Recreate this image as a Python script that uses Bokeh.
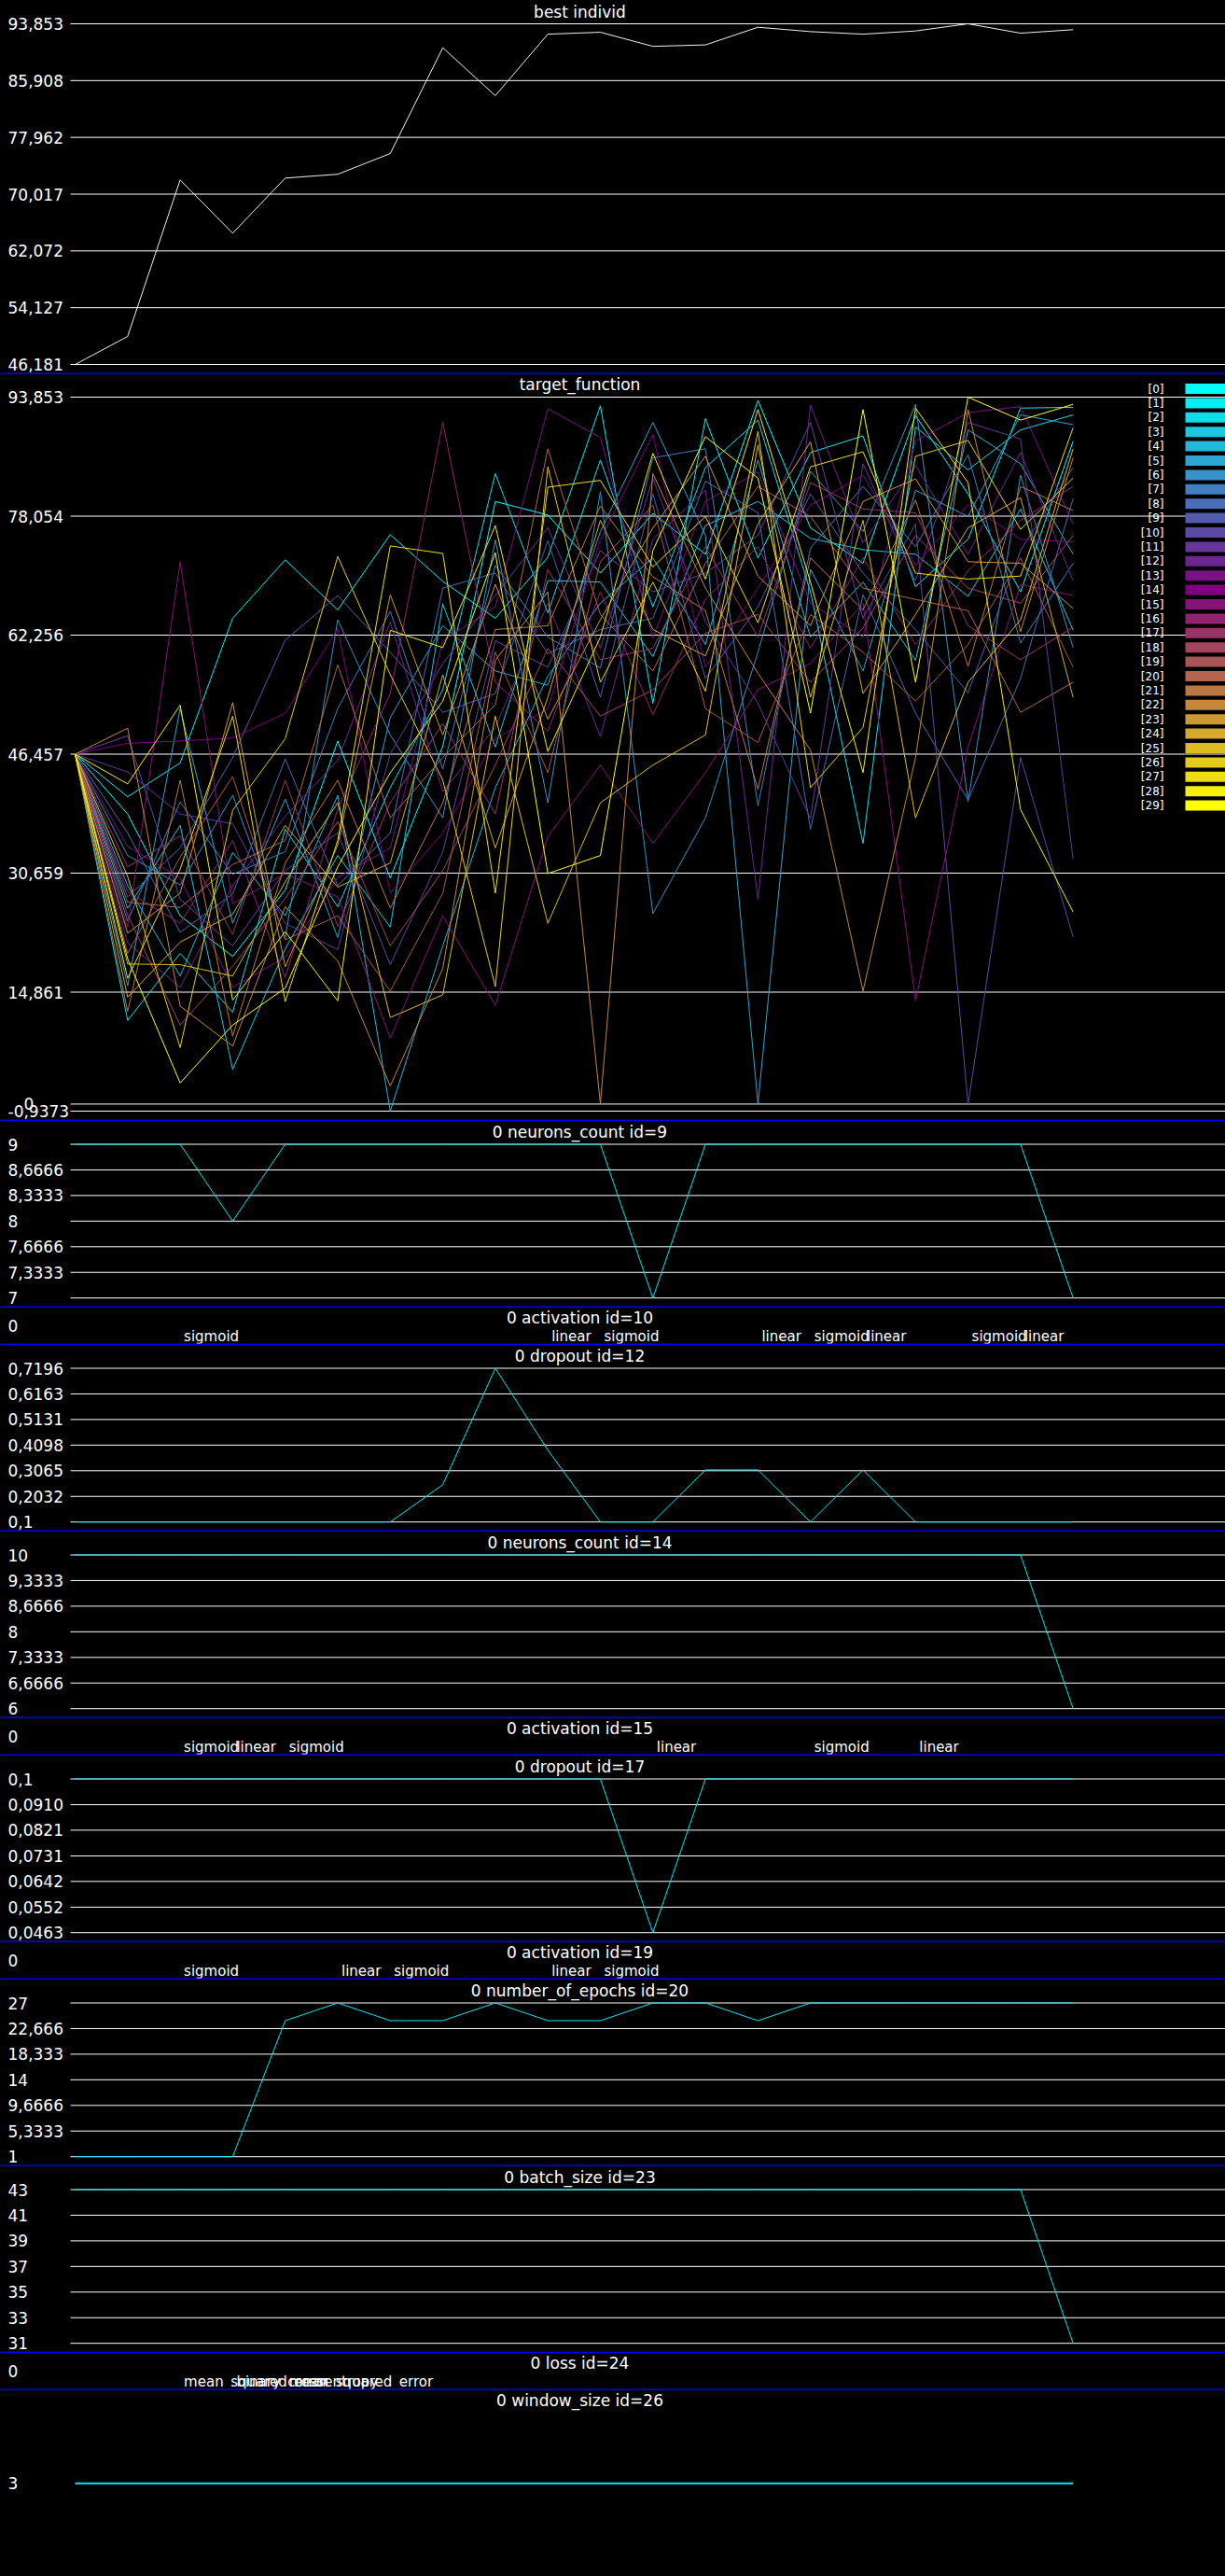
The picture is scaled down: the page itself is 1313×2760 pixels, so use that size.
from bokeh.plotting import figure
from bokeh.models import (Range1d, ColumnDataSource, LabelSet, Label,
                          BoxAnnotation, GlobalInlineStyleSheet)
from bokeh.layouts import column
from bokeh.embed import file_html
from bokeh.resources import INLINE
from bokeh.core.properties import value

# ---------------------------------------------------------------- data
generations = list(range(20))

best_individ = [46.181, 50.1, 72.0, 64.55, 72.26, 72.8, 75.7, 90.5, 83.8, 92.4,
                92.67, 90.7, 90.9, 93.37, 92.76, 92.4, 92.85, 93.853, 92.54, 93.03]
best_ticks = [46.181, 54.127, 62.072, 70.017, 77.962, 85.908, 93.853]
best_tick_labels = ["46,181", "54,127", "62,072", "70,017", "77,962", "85,908", "93,853"]

tf_00 = [46.457, 38.5, 25.0, 19.6, 28.4, 48.2, 30.0, 47.5, 80.0, 78.2, 70.5, 78.4, 73.0, 93.4, 76.5, 71.8, 91.4, 81.0, 68.0, 88.0]
tf_01 = [46.457, 40.8, 45.3, 64.5, 72.25, 65.6, 75.6, 69.4, 64.5, 72.6, 92.7, 53.2, 91.0, 72.5, 86.5, 88.7, 68.7, 75.0, 92.4, 92.5]
tf_02 = [46.457, 11.1, 20.0, 12.2, 36.5, 26.2, 42.0, 55.0, 83.7, 65.2, 85.5, 66.0, 84.5, 90.8, 68.0, 34.6, 89.9, 84.2, 89.5, 91.5]
tf_03 = [46.457, 26.0, 37.0, 4.6, 20.6, 33.0, 23.5, 66.4, 47.4, 69.5, 69.3, 59.4, 76.8, 80.0, 75.1, 73.6, 73.0, 67.4, 79.0, 62.9]
tf_04 = [46.457, 29.0, 17.0, 33.4, 25.0, 41.0, -0.9373, 21.0, 42.0, 56.8, 66.5, 72.5, 61.0, 85.5, 62.0, 69.3, 58.9, 89.5, 85.0, 73.0]
tf_05 = [46.457, 15.7, 52.5, 24.0, 40.5, 22.1, 51.3, 63.5, 57.5, 55.6, 76.0, 90.5, 75.5, 0.0, 71.0, 57.5, 81.5, 78.0, 91.5, 90.2]
tf_06 = [46.457, 33.0, 29.1, 41.0, 22.0, 64.3, 49.0, 38.0, 74.9, 40.0, 81.3, 25.3, 38.0, 60.0, 84.0, 76.0, 92.9, 40.2, 83.5, 60.6]
tf_07 = [46.457, 24.3, 40.1, 30.5, 33.5, 52.5, 65.4, 44.5, 71.5, 62.0, 57.9, 85.8, 87.0, 39.6, 73.8, 82.0, 74.0, 86.2, 61.2, 71.8]
tf_08 = [46.457, 36.0, 22.8, 27.9, 45.8, 29.0, 36.0, 68.5, 70.5, 59.8, 63.0, 64.5, 82.7, 78.5, 36.5, 67.6, 51.9, 40.4, 56.5, 80.4]
tf_09 = [46.457, 27.5, 34.0, 46.0, 61.6, 67.5, 60.0, 52.0, 54.5, 74.8, 54.0, 81.0, 56.5, 66.0, 81.0, 70.5, 63.0, 54.6, 73.5, 84.5]
tf_10 = [46.457, 48.9, 27.2, 21.0, 31.0, 36.0, 18.5, 33.5, 61.5, 58.0, 73.5, 68.0, 70.5, 75.5, 90.5, 64.5, 77.0, 0.0, 46.0, 22.2]
tf_11 = [46.457, 44.1, 38.5, 37.2, 24.0, 20.5, 46.5, 58.5, 67.5, 76.5, 60.5, 83.1, 64.0, 53.2, 37.9, 85.0, 69.5, 90.5, 88.3, 32.5]
tf_12 = [46.457, 21.4, 15.5, 29.0, 38.2, 45.6, 64.0, 41.5, 50.0, 66.5, 48.8, 75.0, 81.5, 27.2, 92.8, 74.5, 84.8, 73.0, 86.5, 69.5]
tf_13 = [46.457, 34.2, 30.0, 15.5, 19.5, 30.1, 34.0, 61.5, 66.0, 92.3, 88.5, 61.9, 80.0, 83.9, 66.5, 62.0, 88.0, 91.8, 92.6, 77.0]
tf_14 = [46.457, 47.9, 48.2, 48.6, 51.9, 63.1, 28.0, 36.0, 48.5, 52.5, 74.9, 88.9, 58.0, 68.5, 79.5, 83.5, 71.5, 79.6, 75.0, 74.6]
tf_15 = [46.457, 23.5, 72.0, 26.6, 30.6, 27.5, 8.75, 25.0, 13.1, 35.5, 45.0, 34.6, 44.0, 55.0, 58.5, 66.5, 13.7, 47.4, 69.0, 67.5]
tf_16 = [46.457, 28.2, 24.0, 35.0, 16.8, 39.2, 54.5, 90.5, 56.0, 49.5, 68.0, 51.7, 67.0, 74.0, 60.5, 72.5, 61.0, 70.8, 77.5, 82.0]
tf_17 = [46.457, 31.5, 35.6, 22.5, 43.0, 23.6, 40.0, 50.5, 38.5, 71.0, 59.0, 60.5, 74.0, 62.0, 82.5, 79.0, 78.5, 63.5, 59.0, 63.3]
tf_18 = [46.457, 25.1, 10.5, 18.3, 27.3, 37.5, 21.0, 31.0, 45.0, 60.5, 51.5, 55.0, 62.5, 65.0, 56.0, 63.2, 75.5, 68.5, 66.5, 75.5]
tf_19 = [46.457, 20.0, 32.8, 43.5, 21.8, 25.0, 15.0, 28.0, 60.0, 44.0, 72.0, 79.5, 52.5, 48.0, 65.0, 60.0, 53.5, 61.0, 72.5, 58.0]
tf_20 = [46.457, 26.8, 26.1, 31.8, 35.0, 58.3, 38.0, 46.0, 53.0, 87.0, 65.0, 57.5, 71.8, 82.0, 78.0, 68.5, 67.0, 65.5, 52.0, 56.0]
tf_21 = [46.457, 12.3, 43.0, 9.0, 32.0, 43.0, 26.0, 40.0, 63.0, 63.5, 79.4, 70.0, 65.5, 41.8, 72.5, 65.6, 80.2, 58.1, 82.0, 78.8]
tf_22 = [46.457, 49.9, 13.0, 7.7, 26.2, 19.0, 2.4, 18.0, 58.9, 68.0, 0.0, 83.7, 68.5, 57.2, 47.0, 15.0, 46.0, 92.2, 62.7, 85.8]
tf_23 = [46.457, 22.7, 28.0, 53.3, 18.2, 34.4, 67.6, 49.0, 69.0, 51.1, 64.3, 76.5, 86.0, 70.1, 63.5, 80.0, 83.0, 72.0, 71.8, 65.8]
tf_24 = [46.457, 14.2, 21.5, 25.2, 37.0, 28.8, 32.0, 57.0, 34.0, 54.0, 77.5, 63.0, 59.5, 77.0, 87.9, 54.5, 65.0, 76.5, 80.5, 54.0]
tf_25 = [46.457, 18.6, 18.5, 17.0, 29.5, 40.0, 11.5, 14.5, 51.5, 24.0, 40.0, 45.0, 49.0, 87.5, 54.0, 77.5, 38.0, 56.0, 64.3, 87.0]
tf_26 = [46.457, 30.2, 7.5, 39.0, 48.5, 72.7, 57.0, 43.0, 15.6, 84.6, 56.0, 69.3, 54.8, 89.3, 42.0, 50.0, 86.0, 88.1, 76.3, 83.1]
tf_27 = [46.457, 16.7, 31.2, 51.5, 13.6, 35.0, 74.1, 73.1, 28.0, 81.9, 82.8, 71.3, 78.0, 63.9, 84.6, 86.6, 70.5, 69.7, 70.1, 89.8]
tf_28 = [46.457, 42.5, 52.96, 13.8, 22.9, 13.7, 62.9, 60.6, 76.8, 46.8, 62.0, 86.4, 69.7, 92.2, 69.3, 44.0, 92.4, 82.5, 39.1, 25.5]
tf_29 = [46.457, 19.3, 2.8, 10.5, 15.4, 31.5, 44.0, 53.5, 73.2, 30.6, 33.0, 73.5, 88.6, 83.1, 51.9, 92.2, 56.0, 93.853, 90.8, 92.9]
target_series = [tf_00, tf_01, tf_02, tf_03, tf_04, tf_05, tf_06, tf_07, tf_08, tf_09,
                 tf_10, tf_11, tf_12, tf_13, tf_14, tf_15, tf_16, tf_17, tf_18, tf_19,
                 tf_20, tf_21, tf_22, tf_23, tf_24, tf_25, tf_26, tf_27, tf_28, tf_29]
target_ticks = [-0.9373, 0, 14.861, 30.659, 46.457, 62.256, 78.054, 93.853]
target_tick_labels = ["-0,9373", "0", "14,861", "30,659", "46,457", "62,256", "78,054", "93,853"]
legend_labels = ["[0]", "[1]", "[2]", "[3]", "[4]", "[5]", "[6]", "[7]", "[8]", "[9]",
                 "[10]", "[11]", "[12]", "[13]", "[14]", "[15]", "[16]", "[17]", "[18]", "[19]",
                 "[20]", "[21]", "[22]", "[23]", "[24]", "[25]", "[26]", "[27]", "[28]", "[29]"]

neurons9 = [9, 9, 9, 8, 9, 9, 9, 9, 9, 9, 9, 7, 9, 9, 9, 9, 9, 9, 9, 7]
neurons9_ticks = [7, 7.3333, 7.6666, 8, 8.3333, 8.6666, 9]
neurons9_labels = ["7", "7,3333", "7,6666", "8", "8,3333", "8,6666", "9"]

act10_gens = [2, 9, 10, 13, 14, 15, 17, 18]
act10_values = ["sigmoid", "linear", "sigmoid", "linear", "sigmoid", "linear", "sigmoid", "linear"]

dropout12 = [0.1, 0.1, 0.1, 0.1, 0.1, 0.1, 0.1, 0.25, 0.7196, 0.39,
             0.1, 0.1, 0.31, 0.31, 0.1, 0.31, 0.1, 0.1, 0.1, 0.1]
dropout12_ticks = [0.1, 0.2032, 0.3065, 0.4098, 0.5131, 0.6163, 0.7196]
dropout12_labels = ["0,1", "0,2032", "0,3065", "0,4098", "0,5131", "0,6163", "0,7196"]

neurons14 = [10, 10, 10, 10, 10, 10, 10, 10, 10, 10, 10, 10, 10, 10, 10, 10, 10, 10, 10, 6]
neurons14_ticks = [6, 6.6666, 7.3333, 8, 8.6666, 9.3333, 10]
neurons14_labels = ["6", "6,6666", "7,3333", "8", "8,6666", "9,3333", "10"]

act15_gens = [2, 3, 4, 11, 14, 16]
act15_values = ["sigmoid", "linear", "sigmoid", "linear", "sigmoid", "linear"]

dropout17 = [0.1, 0.1, 0.1, 0.1, 0.1, 0.1, 0.1, 0.1, 0.1, 0.1,
             0.1, 0.0463, 0.1, 0.1, 0.1, 0.1, 0.1, 0.1, 0.1, 0.1]
dropout17_ticks = [0.0463, 0.0552, 0.0642, 0.0731, 0.0821, 0.0910, 0.1]
dropout17_labels = ["0,0463", "0,0552", "0,0642", "0,0731", "0,0821", "0,0910", "0,1"]

act19_gens = [2, 5, 6, 9, 10]
act19_values = ["sigmoid", "linear", "sigmoid", "linear", "sigmoid"]

epochs20 = [1, 1, 1, 1, 24, 27, 24, 24, 27, 24, 24, 27, 27, 24, 27, 27, 27, 27, 27, 27]
epochs20_ticks = [1, 5.3333, 9.6666, 14, 18.333, 22.666, 27]
epochs20_labels = ["1", "5,3333", "9,6666", "14", "18,333", "22,666", "27"]

batch23 = [43, 43, 43, 43, 43, 43, 43, 43, 43, 43, 43, 43, 43, 43, 43, 43, 43, 43, 43, 31]
batch23_ticks = [31, 33, 35, 37, 39, 41, 43]
batch23_labels = ["31", "33", "35", "37", "39", "41", "43"]

loss24_gens = [2, 3, 4]
loss24_values = ["mean_squared_error", "binary_crossentropy", "mean_squared_error"]

window26 = [3, 3, 3, 3, 3, 3, 3, 3, 3, 3, 3, 3, 3, 3, 3, 3, 3, 3, 3, 3]
window26_ticks = [3]
window26_labels = ["3"]

# ---------------------------------------------------------------- style / layout
FONT = "DejaVu Sans"
W = 1313
PX_PER_GEN = 56.3
GEN0_PX = 80
GRID_PX = 75
X_RANGE = (-GEN0_PX / PX_PER_GEN, (W - GEN0_PX) / PX_PER_GEN)
GRID_X0 = (GRID_PX - GEN0_PX) / PX_PER_GEN
TITLE_X = 621
LABEL_X = 8
LINE_CYAN = "#00E8F0"
SEP = 2


def lerp(c1, c2, t):
    return "#%02x%02x%02x" % tuple(int(round(a + (b - a) * t)) for a, b in zip(c1, c2))


palette = []
for i in range(30):
    if i <= 14:
        palette.append(lerp((0, 255, 255), (128, 0, 128), i / 14))
    else:
        palette.append(lerp((128, 0, 128), (255, 255, 0), (i - 14) / 15))


def make_fig(h, y0, y1, separator=True):
    p = figure(width=W, height=h, x_range=Range1d(*X_RANGE), y_range=Range1d(y0, y1),
               output_backend="svg", toolbar_location=None,
               x_axis_location=None, y_axis_location=None, min_border=0,
               background_fill_color="black", border_fill_color="black",
               outline_line_color=None)
    p.xgrid.visible = False
    p.ygrid.visible = False
    if separator:
        p.add_layout(BoxAnnotation(left=0, right=W, bottom=0, top=SEP,
                                   left_units="screen", right_units="screen",
                                   top_units="screen", bottom_units="screen",
                                   fill_color="#0000ff", fill_alpha=1, line_color=None))
    return p


def y_limits(h, v_top, v_bot, r_top, r_bot):
    s = (r_bot - r_top) / (v_top - v_bot)
    return v_bot - (h - r_bot) / s, v_top + r_top / s


def add_grid(p, ticks):
    n = len(ticks)
    p.segment(x0=[GRID_X0] * n, y0=ticks, x1=[X_RANGE[1]] * n, y1=ticks,
              line_color="white", line_width=1)


def add_ticks(p, ticks, labels, size, xs=None):
    src = ColumnDataSource(dict(x=xs if xs else [LABEL_X] * len(ticks), y=ticks, text=labels))
    p.add_layout(LabelSet(x="x", y="y", text="text", source=src, x_units="screen", y_units="data",
                          text_color="white", text_font=value(FONT), text_font_size=f"{size}px",
                          text_align="left", text_baseline="middle"))


def add_title(p, h, text, rel):
    p.add_layout(Label(x=TITLE_X, y=h - rel, x_units="screen", y_units="screen", text=text,
                       text_color="white", text_font=FONT, text_font_size="17px",
                       text_align="center", text_baseline="middle"))


def numeric_panel(title, vals, ticks, labels, h=200, r_top=24.5, r_bot=189.2, title_rel=11.5,
                  color=LINE_CYAN, size=17, width=1):
    y0, y1 = y_limits(h, max(ticks), min(ticks), r_top, r_bot)
    p = make_fig(h, y0, y1)
    add_grid(p, ticks)
    p.line(generations, vals, line_color=color, line_width=width)
    add_ticks(p, ticks, labels, size)
    add_title(p, h, title, title_rel)
    return p


def category_panel(title, gens, vals, h=40):
    p = make_fig(h, -(h - 18.5), 18.5)
    add_ticks(p, [0], ["0"], 17)
    p.text(x=gens, y=[0] * len(gens), text=vals, x_offset=4, y_offset=12.2,
           text_color="white", text_font=value(FONT), text_font_size="15px",
           text_align="left", text_baseline="middle")
    add_title(p, h, title, 10.7)
    return p


figs = []

# best individ
h1 = 401
y0, y1 = y_limits(h1, max(best_ticks), min(best_ticks), 25, 390)
p1 = make_fig(h1, y0, y1)
add_grid(p1, best_ticks)
p1.line(generations, best_individ, line_color="#f0f0f0", line_width=1)
add_ticks(p1, best_ticks, best_tick_labels, 17)
add_title(p1, h1, "best individ", 12)
figs.append(p1)

# target function
h2 = 800
y0, y1 = y_limits(h2, max(target_ticks), min(target_ticks), 24, 789)
p2 = make_fig(h2, y0, y1)
add_grid(p2, target_ticks)
for i, s in enumerate(target_series):
    p2.line(generations, s, line_color=palette[i], line_width=1)
tick_x = [LABEL_X if t != 0 else LABEL_X + 17 for t in target_ticks]
add_ticks(p2, target_ticks, target_tick_labels, 17, xs=tick_x)
add_title(p2, h2, "target_function", 10)
rows = [15 + 15.4 * i for i in range(len(legend_labels))]
leg_src = ColumnDataSource(dict(x=[1247] * len(rows), y=[h2 - r for r in rows], text=legend_labels))
p2.add_layout(LabelSet(x="x", y="y", text="text", source=leg_src, x_units="screen", y_units="screen",
                       text_color="white", text_font=value(FONT), text_font_size="12px",
                       text_align="right", text_baseline="middle"))
for i, r in enumerate(rows):
    p2.add_layout(BoxAnnotation(left=1270, right=W, top=h2 - r + 5.5, bottom=h2 - r - 5.5,
                                left_units="screen", right_units="screen",
                                top_units="screen", bottom_units="screen",
                                fill_color=palette[i], fill_alpha=1, line_color=None))
figs.append(p2)

figs.append(numeric_panel("0 neurons_count id=9", neurons9, neurons9_ticks, neurons9_labels))
figs.append(category_panel("0 activation id=10", act10_gens, act10_values))
figs.append(numeric_panel("0 dropout id=12", dropout12, dropout12_ticks, dropout12_labels))
figs.append(numeric_panel("0 neurons_count id=14", neurons14, neurons14_ticks, neurons14_labels))
figs.append(category_panel("0 activation id=15", act15_gens, act15_values))
figs.append(numeric_panel("0 dropout id=17", dropout17, dropout17_ticks, dropout17_labels))
figs.append(category_panel("0 activation id=19", act19_gens, act19_values))
figs.append(numeric_panel("0 number_of_epochs id=20", epochs20, epochs20_ticks, epochs20_labels))
figs.append(numeric_panel("0 batch_size id=23", batch23, batch23_ticks, batch23_labels))
figs.append(category_panel("0 loss id=24", loss24_gens, loss24_values))

# window size (single value, no grid)
h13 = 199
p13 = make_fig(h13, 3 - (h13 - 99.3) / 50, 3 + 99.3 / 50, separator=False)
p13.line(generations, window26, line_color=LINE_CYAN, line_width=2)
add_ticks(p13, window26_ticks, window26_labels, 17)
add_title(p13, h13, "0 window_size id=26", 10.7)
figs.append(p13)

layout = column(*figs, spacing=0)
layout.stylesheets = [GlobalInlineStyleSheet(css="body { background-color: #000000; }")]

open("out.html", "w").write(file_html(layout, INLINE))
